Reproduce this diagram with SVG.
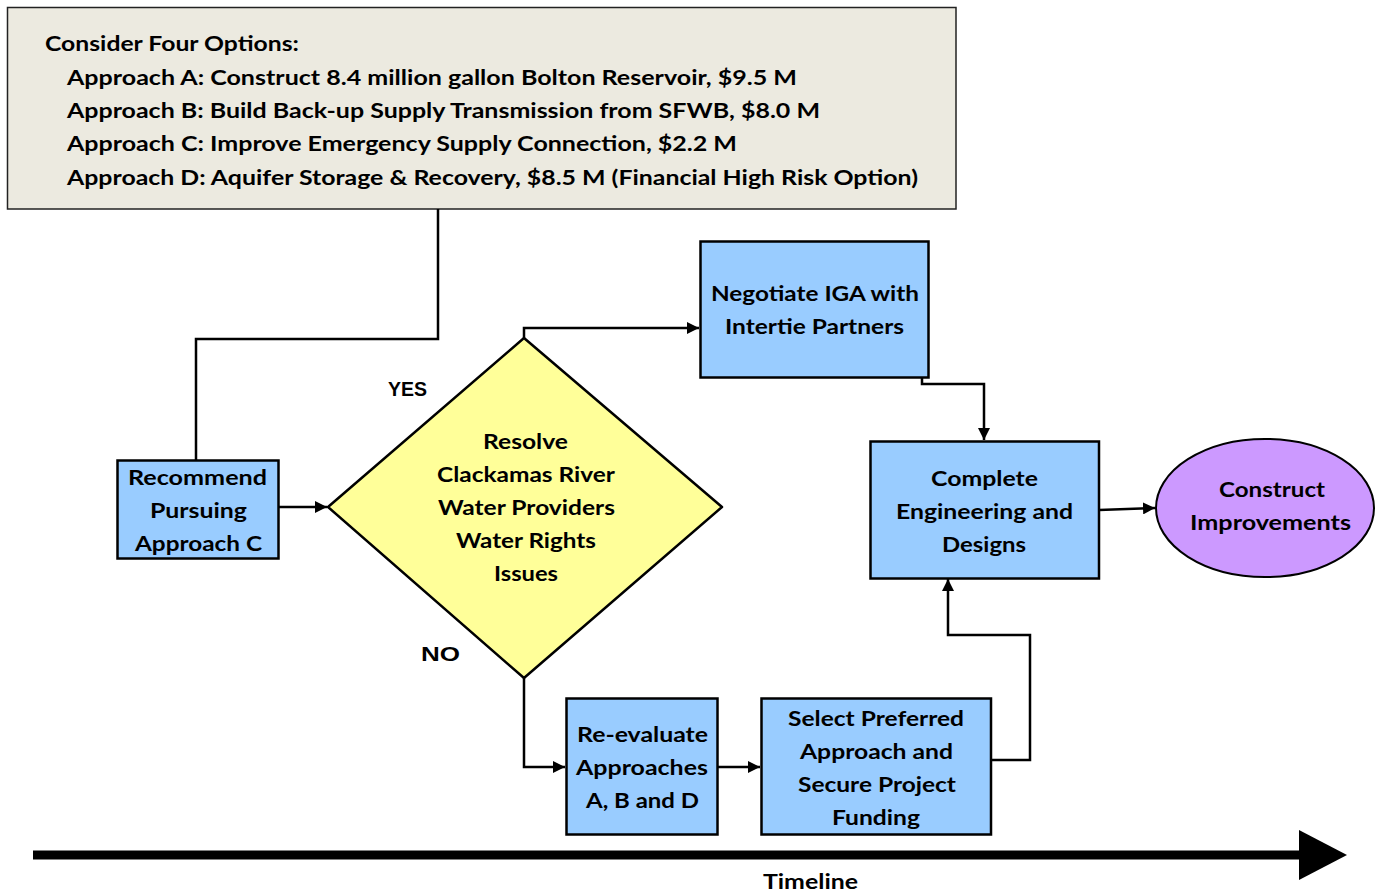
<svg xmlns="http://www.w3.org/2000/svg" width="1377" height="894" viewBox="0 0 1377 894">
<defs>
<marker id="ah" viewBox="0 0 12 12" refX="12" refY="6" markerWidth="12" markerHeight="12" markerUnits="userSpaceOnUse" orient="auto">
<path d="M0,0 L12,6 L0,12 Z" fill="#000"/>
</marker>
<style>
.t{font-family:Lato,"Open Sans",sans-serif;font-weight:bold;font-size:21.5px;fill:#000}
.c{text-anchor:middle}
.box{fill:#99CCFF;stroke:#000;stroke-width:2.5}
.con{fill:none;stroke:#000;stroke-width:2.5}
.lbl{font-family:"Liberation Sans",Arial,sans-serif;font-weight:bold;font-size:20px;fill:#000}
</style>
</defs>
<rect width="1377" height="894" fill="#fff"/>

<g id="options">
<rect x="7.5" y="7.5" width="948.5" height="201.5" fill="#ECEAE0" stroke="#222" stroke-width="1.5"/>
<text class="t" x="45" y="51" textLength="254" lengthAdjust="spacingAndGlyphs">Consider Four Options:</text>
<text class="t" x="67" y="85" textLength="730" lengthAdjust="spacingAndGlyphs">Approach A:  Construct 8.4 million gallon Bolton Reservoir, $9.5 M</text>
<text class="t" x="67" y="118" textLength="753" lengthAdjust="spacingAndGlyphs">Approach B:  Build Back-up Supply Transmission from SFWB,  $8.0 M</text>
<text class="t" x="67" y="151" textLength="670" lengthAdjust="spacingAndGlyphs">Approach C:  Improve Emergency Supply Connection,  $2.2 M</text>
<text class="t" x="67" y="185" textLength="851" lengthAdjust="spacingAndGlyphs">Approach D:  Aquifer Storage &amp; Recovery, $8.5 M (Financial High Risk Option)</text>
</g>

<g id="connectors">
<path class="con" d="M438,209 V339 H196 V460"/>
<path class="con" d="M278,507 H327" marker-end="url(#ah)"/>
<path class="con" d="M524,338 V328 H699" marker-end="url(#ah)"/>
<path class="con" d="M922,377 V384 H984 V440" marker-end="url(#ah)"/>
<path class="con" d="M1099,510 L1155,508" marker-end="url(#ah)"/>
<path class="con" d="M524,678 V767 H565" marker-end="url(#ah)"/>
<path class="con" d="M717,767 H760" marker-end="url(#ah)"/>
<path class="con" d="M991,760 H1030 V635 H948 V579" marker-end="url(#ah)"/>
<path d="M33,855 H1302" stroke="#000" stroke-width="9" fill="none"/>
<path d="M1299,830 L1347,855 L1299,880 Z" fill="#000"/>
</g>

<g id="recommend">
<rect class="box" x="117.5" y="460.5" width="161" height="98"/>
<text class="t c" x="197.5" y="485" textLength="139" lengthAdjust="spacingAndGlyphs">Recommend</text>
<text class="t c" x="198.5" y="518" textLength="97" lengthAdjust="spacingAndGlyphs">Pursuing</text>
<text class="t c" x="198.5" y="551" textLength="127" lengthAdjust="spacingAndGlyphs">Approach C</text>
</g>

<g id="resolve">
<path d="M328,507 L524,338 L722,507 L524,678 Z" fill="#FFFF99" stroke="#000" stroke-width="2.5" stroke-linejoin="round"/>
<text class="t c" x="525.5" y="449" textLength="85" lengthAdjust="spacingAndGlyphs">Resolve</text>
<text class="t c" x="526" y="482" textLength="178" lengthAdjust="spacingAndGlyphs">Clackamas River</text>
<text class="t c" x="526.5" y="515" textLength="177" lengthAdjust="spacingAndGlyphs">Water Providers</text>
<text class="t c" x="526" y="548" textLength="140" lengthAdjust="spacingAndGlyphs">Water Rights</text>
<text class="t c" x="526" y="581" textLength="64" lengthAdjust="spacingAndGlyphs">Issues</text>
</g>

<text class="lbl" x="388" y="396" textLength="39" lengthAdjust="spacingAndGlyphs">YES</text>
<text class="lbl" x="421" y="661" textLength="39" lengthAdjust="spacingAndGlyphs">NO</text>

<g id="negotiate">
<rect class="box" x="700.5" y="241.5" width="228" height="136"/>
<text class="t c" x="815" y="301" textLength="208" lengthAdjust="spacingAndGlyphs">Negotiate IGA with</text>
<text class="t c" x="814.5" y="334" textLength="179" lengthAdjust="spacingAndGlyphs">Intertie Partners</text>
</g>

<g id="complete">
<rect class="box" x="870.5" y="441.5" width="228.5" height="137"/>
<text class="t c" x="984.5" y="486" textLength="107" lengthAdjust="spacingAndGlyphs">Complete</text>
<text class="t c" x="984.5" y="519" textLength="177" lengthAdjust="spacingAndGlyphs">Engineering and</text>
<text class="t c" x="984" y="552" textLength="84" lengthAdjust="spacingAndGlyphs">Designs</text>
</g>

<g id="construct">
<ellipse cx="1265" cy="508" rx="109" ry="69" fill="#CC99FF" stroke="#000" stroke-width="2"/>
<text class="t c" x="1272" y="497" textLength="106" lengthAdjust="spacingAndGlyphs">Construct</text>
<text class="t c" x="1270.5" y="530" textLength="161" lengthAdjust="spacingAndGlyphs">Improvements</text>
</g>

<g id="reevaluate">
<rect class="box" x="566.5" y="698.5" width="151" height="136"/>
<text class="t c" x="642.5" y="742" textLength="131" lengthAdjust="spacingAndGlyphs">Re-evaluate</text>
<text class="t c" x="642" y="775" textLength="132" lengthAdjust="spacingAndGlyphs">Approaches</text>
<text class="t c" x="642.5" y="808" textLength="113" lengthAdjust="spacingAndGlyphs">A, B and D</text>
</g>

<g id="select">
<rect class="box" x="761.5" y="698.5" width="229.5" height="136"/>
<text class="t c" x="876" y="726" textLength="176" lengthAdjust="spacingAndGlyphs">Select Preferred</text>
<text class="t c" x="876.5" y="759" textLength="153" lengthAdjust="spacingAndGlyphs">Approach and</text>
<text class="t c" x="877" y="792" textLength="158" lengthAdjust="spacingAndGlyphs">Secure Project</text>
<text class="t c" x="876" y="825" textLength="88" lengthAdjust="spacingAndGlyphs">Funding</text>
</g>

<text class="t c" x="810.5" y="889" textLength="95" lengthAdjust="spacingAndGlyphs">Timeline</text>
</svg>
